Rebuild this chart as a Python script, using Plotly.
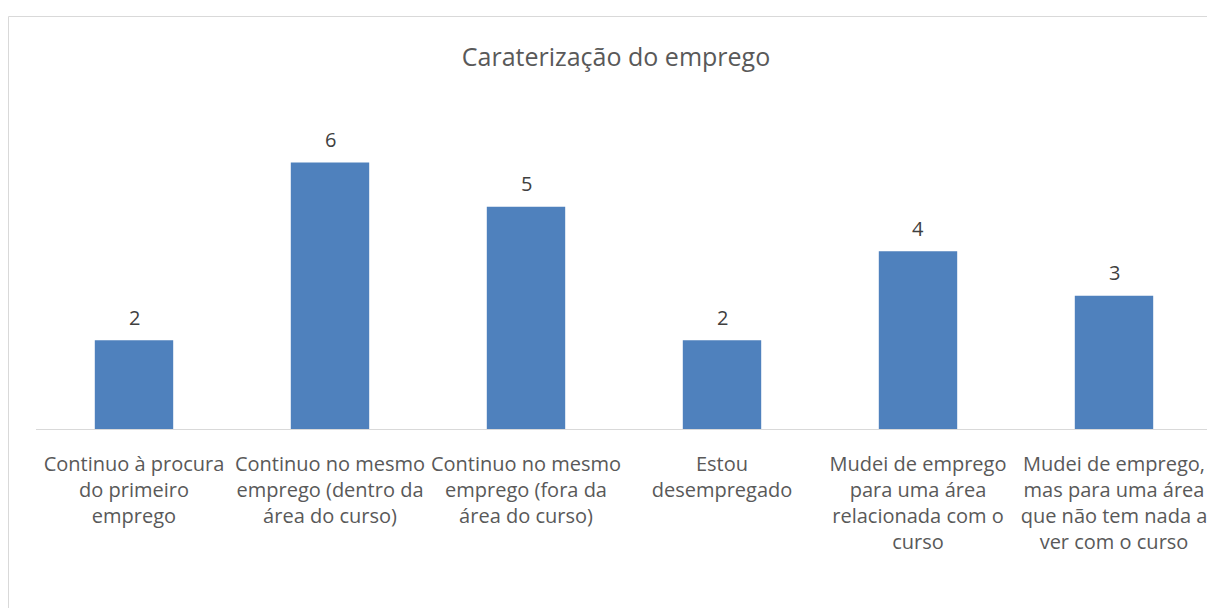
import plotly.graph_objects as go

title = "Caraterização do emprego"
categories = [
    "Continuo à procura<br>do primeiro<br>emprego",
    "Continuo no mesmo<br>emprego (dentro da<br>área do curso)",
    "Continuo no mesmo<br>emprego (fora da<br>área do curso)",
    "Estou<br>desempregado",
    "Mudei de emprego<br>para uma área<br>relacionada com o<br>curso",
    "Mudei de emprego,<br>mas para uma área<br>que não tem nada a<br>ver com o curso",
]
values = [2, 6, 5, 2, 4, 3]

FONT = "Open Sans, sans-serif"
OFF = 8  # browser body margin
W, H = 1215 - OFF, 608 - OFF
ml, mr = 36 - OFF, 3
mt, mb = 118 - OFF, 608 - 429

fig = go.Figure(go.Bar(
    x=categories, y=values,
    marker=dict(color="#4f81bd", line=dict(width=0)),
    cliponaxis=False,
    width=0.4,
))

for c, v in zip(categories, values):
    fig.add_annotation(x=c, y=v, text=str(v), showarrow=False, yanchor="middle",
                       yshift=23, font=dict(size=20, color="#404040", family=FONT))

pw = W - ml - mr
ph = H - mt - mb
fig.add_shape(type="rect", xref="paper", yref="paper",
              x0=(0.5 - ml) / pw, x1=(W + 5 - ml) / pw,
              y0=-(mb + 5) / ph, y1=(ph + mt - 8.5) / ph,
              line=dict(color="#d9d9d9", width=1), fillcolor="rgba(0,0,0,0)", layer="below")

fig.update_layout(
    width=W, height=H,
    margin=dict(l=ml, r=mr, t=mt, b=mb),
    paper_bgcolor="white", plot_bgcolor="white",
    font=dict(family=FONT, color="#595959", size=20),
    title=dict(text=title, x=(616 - OFF) / W, xanchor="center", y=1 - (57 - OFF) / H, yanchor="middle",
               font=dict(size=25, color="#595959", family=FONT)),
    showlegend=False,
    xaxis=dict(showline=True, linecolor="#d9d9d9", linewidth=1, ticks="",
               tickfont=dict(size=20, color="#595959"), ticklabelstandoff=17,
               showgrid=False, zeroline=False),
    yaxis=dict(range=[0, 7], visible=False, showgrid=False, zeroline=False),
)

fig.write_html("out.html")
